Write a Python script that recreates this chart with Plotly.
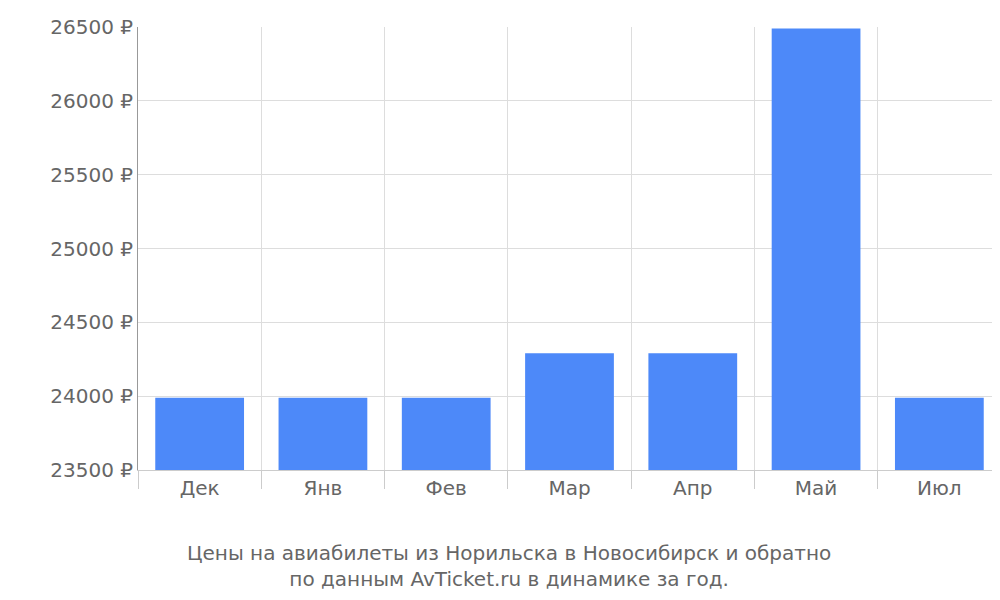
import plotly.graph_objects as go

months = ['Дек', 'Янв', 'Фев', 'Мар', 'Апр', 'Май', 'Июл']
prices = [23990, 23990, 23990, 24290, 24290, 26490, 23990]
y_ticks = [23500, 24000, 24500, 25000, 25500, 26000, 26500]

pos = list(range(len(months)))

fig = go.Figure(go.Bar(
    x=pos, y=prices, width=0.72,
    marker=dict(color='#4d89f9', line=dict(width=0)),
    hoverinfo='skip'
))

fig.update_layout(
    width=1000, height=600,
    margin=dict(l=130, r=7, t=14, b=138),
    plot_bgcolor='white', paper_bgcolor='white',
    font=dict(family='DejaVu Sans', size=20, color='#666666'),
    showlegend=False,
    xaxis=dict(
        range=[-0.5, len(months) - 0.5],
        tickvals=pos, ticktext=months, showgrid=False,
        ticks='', zeroline=False, showline=True, linecolor='#cccccc',
        minor=dict(tick0=-0.5, dtick=1, showgrid=True, gridcolor='#dddddd',
                   ticks='outside', ticklen=18, tickcolor='#cccccc'),
    ),
    yaxis=dict(
        range=[23500, 26500], tickvals=y_ticks,
        ticktext=[f'{v} ₽' for v in y_ticks],
        gridcolor='#dddddd', zeroline=False,
        showline=True, linecolor='#999999',
        ticks='outside', ticklen=0,
    ),
)

fig.add_annotation(
    text='Цены на авиабилеты из Норильска в Новосибирск и обратно<br>по данным AvTicket.ru в динамике за год.',
    xref='paper', yref='paper', x=0.43, y=-0.155, yanchor='top',
    showarrow=False, font=dict(size=20, color='#666666')
)

fig.write_html('out.html')
